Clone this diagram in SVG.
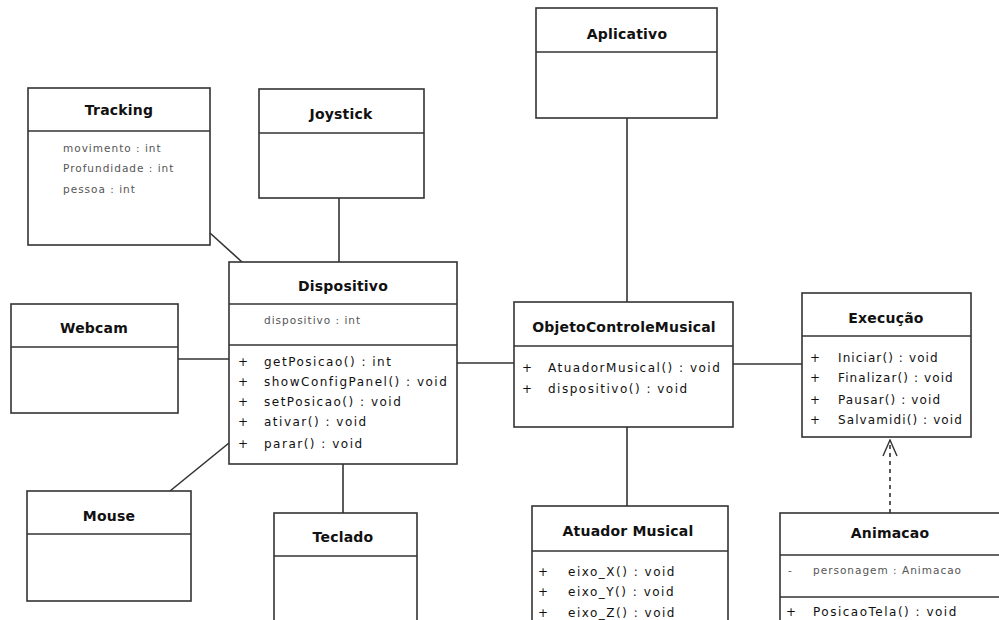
<svg xmlns="http://www.w3.org/2000/svg" width="999" height="620" viewBox="0 0 999 620">
<defs>
<style>
.box{fill:#fff;stroke:#333;stroke-width:1.6}
.sep{stroke:#333;stroke-width:1.6}
.t{font-family:"DejaVu Sans",Verdana,sans-serif;font-size:14px;font-weight:bold;letter-spacing:0.2px;fill:#111;text-anchor:middle}
.m{font-family:"DejaVu Sans",Verdana,sans-serif;font-size:12px;fill:#111;letter-spacing:1.5px}
.e{letter-spacing:1.1px}
.a{font-family:"DejaVu Sans",Verdana,sans-serif;font-size:10.5px;fill:#555;letter-spacing:1px}
.c{stroke:#333;stroke-width:1.6;fill:none}
</style>
<marker id="open" markerWidth="18" markerHeight="16" refX="17" refY="8" orient="auto" markerUnits="userSpaceOnUse" viewBox="0 0 18 16">
<path d="M1,1 L17,8 L1,15" fill="none" stroke="#333" stroke-width="1.4"/>
</marker>
</defs>
<rect width="999" height="620" fill="#fff"/>
<g id="connectors">
<line class="c" x1="210" y1="233" x2="242" y2="262"/>
<line class="c" x1="339" y1="198" x2="339" y2="262"/>
<line class="c" x1="178" y1="359" x2="229" y2="359"/>
<line class="c" x1="170" y1="491" x2="229" y2="443"/>
<line class="c" x1="343" y1="464" x2="343" y2="513"/>
<line class="c" x1="457" y1="363" x2="514" y2="363"/>
<line class="c" x1="627" y1="118" x2="627" y2="302"/>
<line class="c" x1="627" y1="427" x2="627" y2="506"/>
<line class="c" x1="733" y1="364" x2="802" y2="364"/>
<line class="c" x1="890" y1="513" x2="890" y2="440" stroke-dasharray="4,4" marker-end="url(#open)"/>
</g>
<g id="tracking">
<rect class="box" x="28" y="88" width="182" height="157"/>
<line class="sep" x1="28" y1="131" x2="210" y2="131"/>
<text class="t" x="119" y="115">Tracking</text>
<text class="a" x="63" y="152">movimento : int</text>
<text class="a" x="63" y="172">Profundidade : int</text>
<text class="a" x="63" y="193">pessoa : int</text>
</g>
<g id="joystick">
<rect class="box" x="259" y="89" width="165" height="109"/>
<line class="sep" x1="259" y1="133" x2="424" y2="133"/>
<text class="t" x="341" y="119">Joystick</text>
</g>
<g id="aplicativo">
<rect class="box" x="536" y="8" width="181" height="110"/>
<line class="sep" x1="536" y1="52" x2="717" y2="52"/>
<text class="t" x="627" y="39">Aplicativo</text>
</g>
<g id="dispositivo">
<rect class="box" x="229" y="262" width="228" height="202"/>
<line class="sep" x1="229" y1="304" x2="457" y2="304"/>
<line class="sep" x1="229" y1="345" x2="457" y2="345"/>
<text class="t" x="343" y="291">Dispositivo</text>
<text class="a" x="264" y="324">dispositivo : int</text>
<text class="m" x="238" y="366">+</text><text class="m" x="264" y="366">getPosicao() : int</text>
<text class="m" x="238" y="386">+</text><text class="m" x="264" y="386">showConfigPanel() : void</text>
<text class="m" x="238" y="406">+</text><text class="m" x="264" y="406">setPosicao() : void</text>
<text class="m" x="238" y="426">+</text><text class="m" x="264" y="426">ativar() : void</text>
<text class="m" x="238" y="448">+</text><text class="m" x="264" y="448">parar() : void</text>
</g>
<g id="webcam">
<rect class="box" x="11" y="304" width="167" height="109"/>
<line class="sep" x1="11" y1="347" x2="178" y2="347"/>
<text class="t" x="94" y="333">Webcam</text>
</g>
<g id="mouse">
<rect class="box" x="27" y="491" width="164" height="110"/>
<line class="sep" x1="27" y1="534" x2="191" y2="534"/>
<text class="t" x="109" y="521">Mouse</text>
</g>
<g id="teclado">
<rect class="box" x="274" y="513" width="143" height="120"/>
<line class="sep" x1="274" y1="556" x2="417" y2="556"/>
<text class="t" x="343" y="542">Teclado</text>
</g>
<g id="objetocontrolemusical">
<rect class="box" x="514" y="302" width="219" height="125"/>
<line class="sep" x1="514" y1="346" x2="733" y2="346"/>
<text class="t" x="624" y="332">ObjetoControleMusical</text>
<text class="m" x="522" y="372">+</text><text class="m" x="548" y="372">AtuadorMusical() : void</text>
<text class="m" x="522" y="393">+</text><text class="m" x="548" y="393">dispositivo() : void</text>
</g>
<g id="execucao">
<rect class="box" x="802" y="293" width="169" height="144"/>
<line class="sep" x1="802" y1="336" x2="971" y2="336"/>
<text class="t" x="886" y="323">Execução</text>
<text class="m e" x="810" y="362">+</text><text class="m e" x="838" y="362">Iniciar() : void</text>
<text class="m e" x="810" y="382">+</text><text class="m e" x="838" y="382">Finalizar() : void</text>
<text class="m e" x="810" y="404">+</text><text class="m e" x="838" y="404">Pausar() : void</text>
<text class="m e" x="810" y="424">+</text><text class="m e" x="838" y="424">Salvamidi() : void</text>
</g>
<g id="atuadormusical">
<rect class="box" x="532" y="506" width="196" height="130"/>
<line class="sep" x1="532" y1="551" x2="728" y2="551"/>
<text class="t" x="628" y="536">Atuador Musical</text>
<text class="m" x="538" y="576">+</text><text class="m" x="568" y="576">eixo_X() : void</text>
<text class="m" x="538" y="596">+</text><text class="m" x="568" y="596">eixo_Y() : void</text>
<text class="m" x="538" y="617">+</text><text class="m" x="568" y="617">eixo_Z() : void</text>
</g>
<g id="animacao">
<rect class="box" x="780" y="513" width="230" height="120"/>
<line class="sep" x1="780" y1="555" x2="999" y2="555"/>
<line class="sep" x1="780" y1="597" x2="999" y2="597"/>
<text class="t" x="890" y="538">Animacao</text>
<text class="a" x="788" y="574">-</text><text class="a" x="813" y="574">personagem : Animacao</text>
<text class="m" x="786" y="616">+</text><text class="m" x="813" y="616">PosicaoTela() : void</text>
</g>
</svg>
